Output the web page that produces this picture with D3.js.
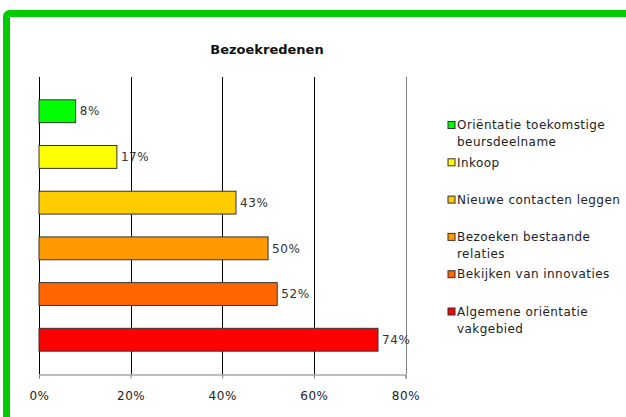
<!DOCTYPE html>
<html>
<head>
<meta charset="utf-8">
<script src="https://cdn.jsdelivr.net/npm/d3@7"></script>
<style>
  body { margin: 0; background: #fff; }
  text { font-family: "DejaVu Sans", Verdana, sans-serif; }
</style>
</head>
<body>
<div id="canvas"></div>
<script>
// DATA
const categories = [
  "Oriëntatie toekomstige beursdeelname",
  "Inkoop",
  "Nieuwe contacten leggen",
  "Bezoeken bestaande relaties",
  "Bekijken van innovaties",
  "Algemene oriëntatie vakgebied"
];
const values = [8, 17, 43, 50, 52, 74];
const legendLines = [
  ["Oriëntatie toekomstige", "beursdeelname"],
  ["Inkoop"],
  ["Nieuwe contacten leggen"],
  ["Bezoeken bestaande", "relaties"],
  ["Bekijken van innovaties"],
  ["Algemene oriëntatie", "vakgebied"]
];
const colors = ["#00ff00", "#ffff00", "#ffcc00", "#ff9900", "#ff6600", "#ff0000"];
const ticks = [0, 20, 40, 60, 80];

// DIMENSIONS
const width = 626, height = 417;
const plot = { left: 39, right: 405.5, top: 77, bottom: 374 };

const svg = d3.select("#canvas").append("svg")
  .attr("width", width).attr("height", height);

// FRAME
svg.append("rect")
  .attr("x", 6.5).attr("y", 13.5)
  .attr("width", 700).attr("height", 500)
  .attr("rx", 3)
  .attr("fill", "#fff")
  .attr("stroke", "#00cc00")
  .attr("stroke-width", 7);

// TITLE
svg.append("text")
  .attr("x", 267).attr("y", 54)
  .attr("text-anchor", "middle")
  .style("font-size", "13px").style("font-weight", "bold")
  .attr("fill", "#111")
  .text("Bezoekredenen");

// SCALES
const x = d3.scaleLinear().domain([0, 80]).range([plot.left, plot.right]);
const y = d3.scaleBand().domain(categories).range([plot.top, plot.bottom]).padding(0.5);

// GRID
svg.append("g").selectAll("line")
  .data(ticks)
  .join("line")
  .attr("x1", d => Math.round(x(d)) + 0.5).attr("x2", d => Math.round(x(d)) + 0.5)
  .attr("y1", plot.top).attr("y2", plot.bottom)
  .attr("stroke", d => d === 80 ? "#808080" : "#000")
  .attr("stroke-width", 1);

// X AXIS
const xAxis = svg.append("g")
  .attr("transform", `translate(0,${plot.bottom + 0.5})`)
  .call(d3.axisBottom(x).tickValues(ticks).tickFormat(d => d + "%").tickSize(4).tickPadding(13));
xAxis.select(".domain").attr("stroke", "#808080");
xAxis.selectAll(".tick line").attr("stroke", "#808080");
xAxis.selectAll(".tick text")
  .style("font-family", "DejaVu Sans, Verdana, sans-serif")
  .style("font-size", "12px")
  .style("letter-spacing", "0.6px")
  .attr("fill", "#222");

// BARS
svg.append("g").selectAll("rect")
  .data(values)
  .join("rect")
  .attr("x", x(0))
  .attr("y", (d, i) => y(categories[i]))
  .attr("width", d => x(d) - x(0))
  .attr("height", y.bandwidth())
  .attr("fill", (d, i) => colors[i])
  .attr("stroke", "#333")
  .attr("stroke-width", 1);

// BAR LABELS
svg.append("g").selectAll("text")
  .data(values)
  .join("text")
  .attr("x", d => x(d) + 4)
  .attr("y", (d, i) => y(categories[i]) + y.bandwidth() / 2)
  .attr("dy", "0.35em")
  .style("font-size", "12px")
  .style("letter-spacing", "0.6px")
  .attr("fill", "#333")
  .text(d => d + "%");

// LEGEND
const legend = svg.append("g");
const legendY = d3.scalePoint().domain(categories).range([125, 311.5]);
categories.forEach((c, i) => {
  const g = legend.append("g").attr("transform", `translate(0,${legendY(c)})`);
  g.append("rect")
    .attr("x", 448).attr("y", -3.5)
    .attr("width", 7).attr("height", 7)
    .attr("fill", colors[i])
    .attr("stroke", "#333");
  legendLines[i].forEach((line, j) => {
    g.append("text")
      .attr("x", 457)
      .attr("y", j * 17)
      .attr("dy", "0.35em")
      .style("font-size", "12px")
      .style("letter-spacing", "0.45px")
      .attr("fill", "#222")
      .text(line);
  });
});
</script>
</body>
</html>
